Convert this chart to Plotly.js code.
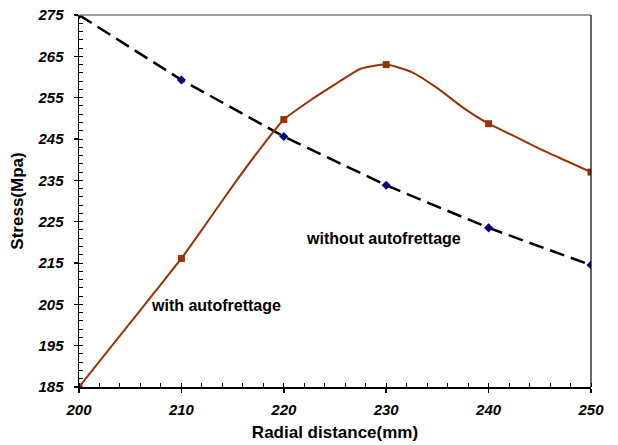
<!DOCTYPE html>
<html>
<head>
<meta charset="utf-8">
<script src="https://cdn.plot.ly/plotly-3.0.1.min.js"></script>
<style>
html,body{margin:0;padding:0;background:#fff;}
#chart{width:618px;height:445px;}
</style>
</head>
<body>
<div id="chart"></div>
<script>
// Data
const radialPoints = [200, 210, 220, 230, 240, 250];
const stressWithout = [275, 259.3, 245.6, 233.8, 223.5, 214.5];
const stressWithPoints = [185, 216.1, 249.7, 263.0, 248.7, 237.0];
const radialCurve = [200, 202.5, 205, 207.5, 210, 212.5, 215, 217.5, 220, 222.5, 225, 227.5, 230, 232.5, 235, 237.5, 240, 242.5, 245, 247.5, 250];
const stressWithCurve = [185, 192.8, 200.5, 208.3, 216.1, 224.8, 233.6, 242.0, 249.7, 254.2, 258.2, 262.0, 263.0, 261.2, 257.3, 252.6, 248.7, 245.7, 242.6, 239.8, 237.0];
const yTicks = [185, 195, 205, 215, 225, 235, 245, 255, 265, 275];
const xTicks = [200, 210, 220, 230, 240, 250];
const labelWithout = "without autofrettage";
const labelWith = "with autofrettage";

const brown = "#993300";
const navy = "#000080";
const tickFont = {family: "Liberation Sans, Arial, sans-serif", size: 15, color: "#000", weight: "bold", style: "italic"};
const titleFont = {family: "Liberation Sans, Arial, sans-serif", size: 17, color: "#000", weight: "bold"};
const noteFont = {family: "Liberation Sans, Arial, sans-serif", size: 16, color: "#000", weight: "bold"};

const traces = [
  {
    x: radialPoints, y: stressWithout, type: "scatter", mode: "lines+markers",
    line: {color: "#000", width: 2.5, dash: "15px,7px"},
    marker: {symbol: "diamond", size: 7, color: navy},
    showlegend: false, hoverinfo: "x+y"
  },
  {
    x: radialCurve, y: stressWithCurve, type: "scatter", mode: "lines",
    line: {color: brown, width: 2, shape: "spline", smoothing: 0.5},
    showlegend: false, hoverinfo: "skip"
  },
  {
    x: radialPoints, y: stressWithPoints, type: "scatter", mode: "markers",
    marker: {symbol: "square", size: 7, color: brown},
    showlegend: false, hoverinfo: "x+y"
  }
];

const layout = {
  width: 618, height: 445,
  margin: {l: 79, r: 27, t: 14.5, b: 58, pad: 0},
  paper_bgcolor: "#fff", plot_bgcolor: "#fff",
  xaxis: {
    range: [200, 250], tickvals: xTicks, ticktext: xTicks.map(String),
    showgrid: false, zeroline: false,
    showline: true, linecolor: "#000", linewidth: 2,
    ticks: "outside", ticklen: 4, tickwidth: 1.5, tickcolor: "#000",
    tickfont: tickFont, ticklabelstandoff: 4,
    minor: {dtick: 2, tick0: 200, ticks: "inside", ticklen: 4, tickwidth: 1, tickcolor: "#000", showgrid: false},
    title: {text: "Radial distance(mm)", font: titleFont, standoff: 9}
  },
  yaxis: {
    range: [185, 275], tickvals: yTicks, ticktext: yTicks.map(String),
    showgrid: false, zeroline: false,
    showline: true, linecolor: "#000", linewidth: 1.5,
    ticks: "outside", ticklen: 4, tickwidth: 1.5, tickcolor: "#000",
    tickfont: tickFont, ticklabelstandoff: 7,
    minor: {dtick: 2, tick0: 185, ticks: "inside", ticklen: 4, tickwidth: 1, tickcolor: "#000", showgrid: false},
    title: {text: "Stress(Mpa)", font: titleFont, standoff: 9}
  },
  shapes: [
    {type: "line", xref: "paper", yref: "paper", x0: 0, x1: 1, y0: 1, y1: 1, line: {color: "#808080", width: 1.5}},
    {type: "line", xref: "paper", yref: "paper", x0: 1, x1: 1, y0: 0, y1: 1, line: {color: "#000", width: 1.2}}
  ],
  annotations: [
    {x: 229.7, y: 221.0, xref: "x", yref: "y", text: labelWithout, showarrow: false, font: noteFont},
    {x: 213.4, y: 204.8, xref: "x", yref: "y", text: labelWith, showarrow: false, font: noteFont}
  ]
};

Plotly.newPlot("chart", traces, layout, {staticPlot: true, displayModeBar: false});
</script>
</body>
</html>
